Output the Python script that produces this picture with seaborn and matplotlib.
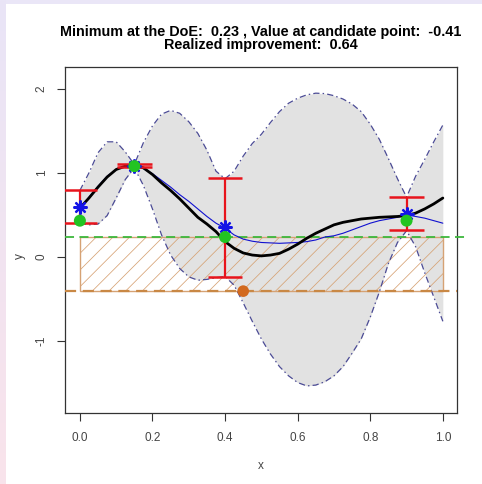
import numpy as np
import pandas as pd
import matplotlib
matplotlib.use("Agg")
import matplotlib.pyplot as plt
import seaborn as sns
from matplotlib.patches import Rectangle
from matplotlib.colors import LinearSegmentedColormap

# ---------------- data ----------------
x_grid = [0.0, 0.025, 0.05, 0.075, 0.1, 0.125, 0.15, 0.175, 0.2, 0.225,
          0.25, 0.275, 0.3, 0.325, 0.35, 0.375, 0.4, 0.425, 0.45, 0.475,
          0.5, 0.525, 0.55, 0.575, 0.6, 0.625, 0.65, 0.675, 0.7, 0.725,
          0.75, 0.775, 0.8, 0.825, 0.85, 0.875, 0.9, 0.925, 0.95, 0.975, 1.0]

upper_bound = [0.79, 1.00, 1.24, 1.37, 1.37, 1.25, 1.10, 1.36, 1.56, 1.70,
               1.745, 1.71, 1.61, 1.47, 1.27, 1.02, 0.93, 1.02, 1.20, 1.35,
               1.46, 1.60, 1.73, 1.83, 1.89, 1.93, 1.95, 1.945, 1.92, 1.88,
               1.82, 1.73, 1.58, 1.40, 1.17, 0.93, 0.71, 0.96, 1.16, 1.37, 1.57]

lower_bound = [0.40, 0.38, 0.39, 0.49, 0.70, 0.92, 1.06, 0.85, 0.57, 0.26,
               0.02, -0.14, -0.24, -0.28, -0.27, -0.25, -0.235, -0.34, -0.55, -0.77,
               -0.98, -1.16, -1.31, -1.42, -1.50, -1.54, -1.53, -1.49, -1.42, -1.31,
               -1.15, -0.98, -0.72, -0.42, -0.08, 0.17, 0.31, 0.12, -0.19, -0.48, -0.77]

black_curve = [0.58, 0.70, 0.83, 0.95, 1.04, 1.08, 1.09, 1.06, 0.98, 0.88,
               0.79, 0.69, 0.58, 0.47, 0.39, 0.30, 0.18, 0.10, 0.045, 0.02,
               0.01, 0.02, 0.04, 0.09, 0.15, 0.22, 0.28, 0.33, 0.38, 0.41,
               0.43, 0.45, 0.46, 0.47, 0.475, 0.48, 0.49, 0.52, 0.57, 0.63, 0.70]

blue_curve = [0.58, 0.71, 0.84, 0.96, 1.04, 1.08, 1.08, 1.05, 0.99, 0.91,
              0.83, 0.74, 0.66, 0.57, 0.48, 0.40, 0.34, 0.26, 0.21, 0.185,
              0.17, 0.165, 0.16, 0.165, 0.17, 0.18, 0.20, 0.235, 0.25, 0.28,
              0.32, 0.36, 0.40, 0.43, 0.45, 0.47, 0.50, 0.48, 0.46, 0.43, 0.40]

doe_x = [0.0, 0.15, 0.4, 0.9]
doe_obs = [0.43, 1.08, 0.235, 0.43]
doe_pred = [0.59, 1.08, 0.35, 0.51]
err_low = [0.40, 1.065, -0.238, 0.315]
err_high = [0.79, 1.10, 0.934, 0.708]

doe_min = 0.23
cand_x = [0.45]
cand_y = [-0.41]
improvement = 0.64

x_ticks = [0.0, 0.2, 0.4, 0.6, 0.8, 1.0]
x_ticklabels = ["0.0", "0.2", "0.4", "0.6", "0.8", "1.0"]
y_ticks = [-1, 0, 1, 2]
y_ticklabels = ["-1", "0", "1", "2"]

# ---------------- figure ----------------
sns.set_theme(style="white")
plt.rcParams["font.family"] = ["Liberation Sans", "DejaVu Sans"]
plt.rcParams["hatch.linewidth"] = 0.55

W, H = 482, 484
fig = plt.figure(figsize=(W / 100, H / 100), dpi=100)
fig.patch.set_facecolor("white")

# screenshot frame strips (lavender/pink)
strip = fig.add_axes([0, 0, 6 / W, 1])
grad = np.linspace(0, 1, 256).reshape(-1, 1)
cm = LinearSegmentedColormap.from_list("frame", ["#F9E3EB", "#E9E5F7"])
strip.imshow(grad, aspect="auto", cmap=cm, origin="lower", extent=[0, 1, 0, 1])
strip.set_axis_off()
fig.add_artist(Rectangle((0, 1 - 4 / H), 1, 4 / H, transform=fig.transFigure,
                         facecolor="#EAE6F7", edgecolor="none", zorder=0))

ax = fig.add_axes([65 / W, 1 - 413 / H, 392 / W, 346 / H])
ax.set_xlim(-0.041, 1.039)
ax.set_ylim(-1.863, 2.262)

df = pd.DataFrame({"x": x_grid, "upper": upper_bound, "lower": lower_bound,
                   "black": black_curve, "blue": blue_curve})

# grey confidence band
ax.fill_between(df["x"], df["lower"], df["upper"], color="#E2E2E2", lw=0, zorder=1)

# hatched improvement box
ax.add_patch(Rectangle((0, cand_y[0]), 1, doe_min - cand_y[0], fill=False,
                       hatch="//", edgecolor="#D6A274", lw=1.0, zorder=2))

dashdot = (0, (5, 2.5, 1.2, 2.5))
sns.lineplot(data=df, x="x", y="upper", ax=ax, color="#4B4B95", lw=0.9,
             linestyle=dashdot, estimator=None, sort=False, zorder=3)
sns.lineplot(data=df, x="x", y="lower", ax=ax, color="#4B4B95", lw=0.9,
             linestyle=dashdot, estimator=None, sort=False, zorder=3)

# horizontal reference lines
ax.plot([0, 1.026], [doe_min, doe_min], transform=ax.get_yaxis_transform(),
        color="#3DB83D", lw=1.3, linestyle=(0, (5, 3)), clip_on=False, zorder=4)
ax.plot([0, 1.0], [cand_y[0], cand_y[0]], transform=ax.get_yaxis_transform(),
        color="#C98845", lw=1.6, linestyle=(0, (5, 3)), clip_on=False, zorder=4)

sns.lineplot(data=df, x="x", y="blue", ax=ax, color="#1010D0", lw=0.8,
             estimator=None, sort=False, zorder=5)
sns.lineplot(data=df, x="x", y="black", ax=ax, color="black", lw=2.0,
             estimator=None, sort=False, zorder=6)

# error bars
ax.vlines(doe_x, err_low, err_high, color="#E8141C", lw=1.6, zorder=7)
cap = 0.048
for xv, lo, hi in zip(doe_x, err_low, err_high):
    ax.hlines([lo, hi], xv - cap, xv + cap, color="#E8141C", lw=1.8, zorder=7)

# predictions (blue asterisks) and observations (green dots)
ax.plot(doe_x, doe_pred, linestyle="none", marker=(8, 2, 0), ms=10,
        mew=1.6, color="#1414E6", zorder=8)
sns.scatterplot(x=doe_x, y=doe_obs, ax=ax, color="#22C422", s=75,
                edgecolor="none", zorder=9)
sns.scatterplot(x=cand_x, y=cand_y, ax=ax, color="#D2691E", s=70,
                edgecolor="none", zorder=9)

# axes styling
for sp in ax.spines.values():
    sp.set_color("#333333")
    sp.set_linewidth(0.9)
ax.set_xticks(x_ticks)
ax.set_xticklabels(x_ticklabels)
ax.set_yticks(y_ticks)
ax.set_yticklabels(y_ticklabels, rotation=90, va="center")
ax.tick_params(axis="both", direction="out", length=5.5, width=0.8,
               color="#333333", labelsize=8.5, labelcolor="#444444",
               bottom=True, left=True)
ax.tick_params(axis="x", pad=8)
ax.tick_params(axis="y", pad=7)
ax.set_xlabel("")
ax.set_ylabel("")
ax.grid(False)

fig.text(261 / W, 1 - 466 / H, "x", ha="center", va="center",
         fontsize=8.5, color="#444444")
fig.text(20 / W, 1 - 256 / H, "y", ha="center", va="center", rotation=90,
         fontsize=8.5, color="#444444")

fig.text(261 / W, 1 - 36 / H,
         "Minimum at the DoE:  %.2f , Value at candidate point:  %.2f" % (doe_min, cand_y[0]),
         ha="center", va="baseline", fontsize=10.4, fontweight="bold", color="black")
fig.text(261 / W, 1 - 49.5 / H, "Realized improvement:  %.2f" % improvement,
         ha="center", va="baseline", fontsize=10.4, fontweight="bold", color="black")

fig.savefig("out.png", dpi=100, facecolor="white")
